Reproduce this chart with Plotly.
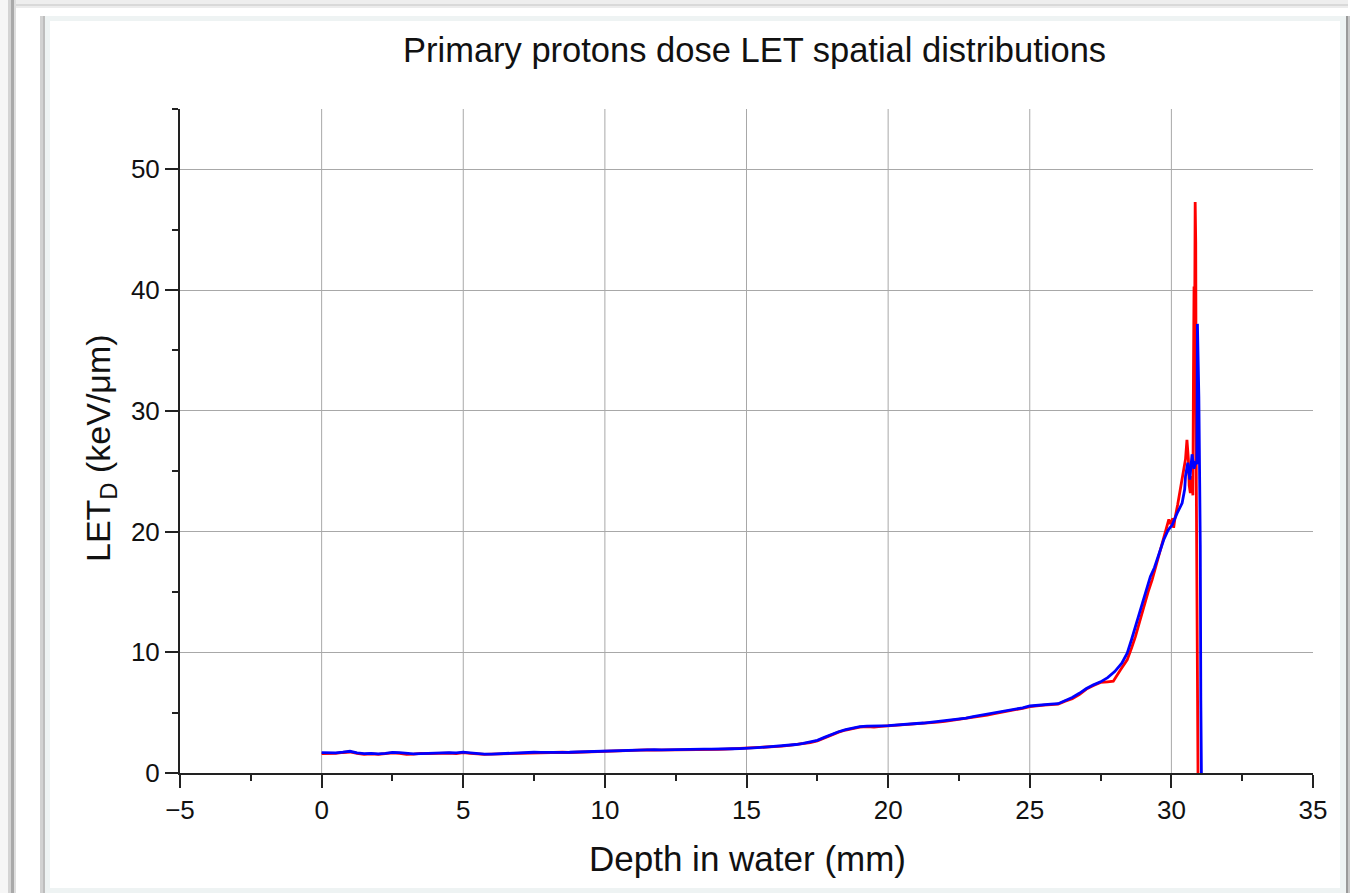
import plotly.graph_objects as go

# ---------------- data ----------------
depth_blue = [0.0, 0.25, 0.5, 0.75, 1.0, 1.25, 1.5, 1.75, 2.0, 2.25, 2.5, 2.75, 3.0, 3.25, 3.5, 3.75,
              4.0, 4.25, 4.5, 4.75, 5.0, 5.25, 5.5, 5.75, 6.0, 6.25, 6.5, 6.75, 7.0, 7.25, 7.5, 7.75,
              8.0, 8.25, 8.5, 8.75, 9.0, 9.25, 9.5, 9.75, 10.0, 10.25, 10.5, 10.75, 11.0, 11.25, 11.5, 11.75,
              12.0, 12.25, 12.5, 12.75, 13.0, 13.25, 13.5, 13.75, 14.0, 14.25, 14.5, 14.75, 15.0, 15.25, 15.5, 15.75,
              16.0, 16.25, 16.5, 16.75, 17.0, 17.25, 17.5, 17.75, 18.0, 18.25, 18.5, 18.75, 19.0, 19.25, 19.5, 19.75,
              20.0, 20.25, 20.5, 20.75, 21.0, 21.25, 21.5, 21.75, 22.0, 22.25, 22.5, 22.75, 23.0, 23.25, 23.5, 23.75,
              24.0, 24.25, 24.5, 24.75, 25.0, 25.25, 25.5, 25.75, 26.0, 26.25, 26.5, 26.75, 27.0, 27.25, 27.5, 27.75,
              28.0, 28.25, 28.44, 28.6, 28.73, 28.9, 29.03, 29.15, 29.26, 29.4, 29.5, 29.62, 29.73, 29.88, 30.03, 30.2,
              30.38, 30.47, 30.5, 30.58, 30.65, 30.73, 30.8, 30.85, 30.9, 30.92, 30.95, 30.97, 31.0, 31.02, 31.04, 31.06]
let_blue = [1.68, 1.66, 1.67, 1.72, 1.80, 1.66, 1.60, 1.62, 1.58, 1.62, 1.70, 1.68, 1.60, 1.58, 1.60, 1.63,
            1.66, 1.70, 1.68, 1.66, 1.72, 1.66, 1.58, 1.56, 1.57, 1.60, 1.64, 1.66, 1.68, 1.70, 1.72, 1.71,
            1.70, 1.73, 1.74, 1.72, 1.74, 1.76, 1.75, 1.77, 1.80, 1.84, 1.88, 1.86, 1.92, 1.90, 1.91, 1.93,
            1.92, 1.94, 1.95, 1.96, 1.95, 1.97, 1.98, 1.98, 1.97, 1.99, 2.01, 2.02, 2.03, 2.08, 2.12, 2.16,
            2.20, 2.24, 2.30, 2.36, 2.45, 2.55, 2.70, 2.95, 3.20, 3.42, 3.60, 3.74, 3.84, 3.88, 3.86, 3.90,
            3.92, 3.98, 4.02, 4.05, 4.10, 4.14, 4.20, 4.26, 4.32, 4.40, 4.46, 4.55, 4.66, 4.76, 4.86, 4.96,
            5.06, 5.18, 5.28, 5.40, 5.55, 5.62, 5.66, 5.70, 5.74, 6.00, 6.25, 6.60, 7.00, 7.30, 7.55, 7.90,
            8.40, 9.10, 9.93, 11.1, 12.1, 13.4, 14.35, 15.3, 16.28, 17.0, 17.66, 18.5, 19.32, 20.1, 20.56, 21.5,
            22.36, 23.5, 24.6, 25.7, 24.3, 26.4, 25.2, 25.68, 25.6, 37.2, 34.0, 31.2, 24.0, 18.9, 6.0, 0.0]

depth_red = [0.0, 0.25, 0.5, 0.75, 1.0, 1.25, 1.5, 1.75, 2.0, 2.25, 2.5, 2.75, 3.0, 3.25, 3.5, 3.75,
             4.0, 4.25, 4.5, 4.75, 5.0, 5.25, 5.5, 5.75, 6.0, 6.25, 6.5, 6.75, 7.0, 7.25, 7.5, 7.75,
             8.0, 8.25, 8.5, 8.75, 9.0, 9.25, 9.5, 9.75, 10.0, 10.25, 10.5, 10.75, 11.0, 11.25, 11.5, 11.75,
             12.0, 12.25, 12.5, 12.75, 13.0, 13.25, 13.5, 13.75, 14.0, 14.25, 14.5, 14.75, 15.0, 15.25, 15.5, 15.75,
             16.0, 16.25, 16.5, 16.75, 17.0, 17.25, 17.5, 17.75, 18.0, 18.25, 18.5, 18.75, 19.0, 19.25, 19.5, 19.75,
             20.0, 20.25, 20.5, 20.75, 21.0, 21.25, 21.5, 21.75, 22.0, 22.25, 22.5, 22.75, 23.0, 23.25, 23.5, 23.75,
             24.0, 24.25, 24.5, 24.75, 25.0, 25.25, 25.5, 25.75, 26.0, 26.25, 26.5, 26.75, 27.0, 27.25, 27.5, 27.75,
             27.95, 28.2, 28.44, 28.6, 28.73, 28.9, 29.03, 29.18, 29.32, 29.47, 29.62, 29.77, 29.91, 29.98, 30.05, 30.08,
             30.12, 30.22, 30.32, 30.42, 30.5, 30.55, 30.6, 30.63, 30.67, 30.72, 30.76, 30.78, 30.8, 30.82, 30.84, 30.86,
             30.88, 30.9, 30.92, 30.94]
let_red = [1.60, 1.58, 1.62, 1.70, 1.74, 1.62, 1.55, 1.58, 1.55, 1.60, 1.66, 1.62, 1.55, 1.56, 1.62, 1.60,
           1.62, 1.66, 1.64, 1.60, 1.68, 1.62, 1.55, 1.54, 1.56, 1.58, 1.62, 1.64, 1.66, 1.68, 1.70, 1.68,
           1.68, 1.70, 1.72, 1.70, 1.72, 1.74, 1.73, 1.75, 1.78, 1.82, 1.86, 1.84, 1.90, 1.88, 1.92, 1.90,
           1.90, 1.92, 1.94, 1.92, 1.93, 1.95, 1.96, 1.96, 1.95, 1.97, 2.00, 2.00, 2.02, 2.06, 2.10, 2.14,
           2.18, 2.22, 2.28, 2.34, 2.42, 2.52, 2.66, 2.90, 3.15, 3.38, 3.56, 3.70, 3.80, 3.84, 3.80, 3.86,
           3.90, 3.94, 4.00, 4.02, 4.08, 4.12, 4.16, 4.22, 4.28, 4.36, 4.42, 4.50, 4.62, 4.70, 4.80, 4.92,
           5.02, 5.12, 5.24, 5.36, 5.50, 5.58, 5.62, 5.66, 5.70, 5.95, 6.15, 6.50, 6.95, 7.25, 7.50, 7.55,
           7.60, 8.54, 9.37, 10.4, 11.3, 12.7, 13.8, 15.0, 16.0, 17.3, 18.5, 19.8, 21.0, 20.6, 21.1, 20.3,
           21.0, 22.2, 23.5, 25.0, 26.0, 27.6, 26.0, 23.8, 23.2, 24.6, 23.0, 33.0, 40.3, 36.0, 47.3, 43.9,
           24.0, 11.3, 9.5, 0.0]

x_ticks = [-5, 0, 5, 10, 15, 20, 25, 30, 35]
y_ticks = [0, 10, 20, 30, 40, 50]
x_grid = [0, 5, 10, 15, 20, 25, 30]

title_text = "Primary protons dose LET spatial distributions"
x_title = "Depth in water (mm)"
y_title = "LET<sub>D</sub> (keV/μm)"

# ---------------- layout geometry ----------------
W, H = 1354, 893
ML, MR, MT, MB = 180, 41, 109, 120
PW, PH = W - ML - MR, H - MT - MB
FONT = "Liberation Sans, Arial, Helvetica, sans-serif"


def px(x):
    return (x - ML) / PW


def py(y):
    return (H - MB - y) / PH


fig = go.Figure()
fig.add_trace(go.Scatter(x=depth_red, y=let_red, mode="lines",
                         line=dict(color="#ff0000", width=2.8), showlegend=False))
fig.add_trace(go.Scatter(x=depth_blue, y=let_blue, mode="lines",
                         line=dict(color="#0000ff", width=2.8), showlegend=False))

shapes = []
# vertical grid lines
for gx in x_grid:
    shapes.append(dict(type="line", xref="x", yref="paper", x0=gx, x1=gx, y0=0, y1=1,
                       line=dict(color="#a8a8a8", width=1), layer="below"))


def rect(x0, y0, x1, y1, color):
    shapes.append(dict(type="rect", xref="paper", yref="paper",
                       x0=px(x0), x1=px(x1), y0=py(y1), y1=py(y0),
                       fillcolor=color, line=dict(width=0), layer="below"))


# window frame decoration
rect(0, 0, 1348, 4, "#eeeeee")
rect(0, 4, 1348, 6, "#d9d9d9")
rect(0, 6, 1348, 8, "#ececec")
rect(0, 0, 8, H, "#f6f6f6")
rect(8, 0, 11, H, "#d4d4d4")
rect(11, 0, 14, H, "#a9a9a9")
rect(14, 0, 16, H, "#dedede")
rect(40, 16, 43, H, "#d2d2d2")
rect(43, 16, 45, H, "#bdbdbd")
rect(45, 16, 1346, 21, "#eef3f3")
rect(45, 16, 50, H, "#eef3f3")
rect(1340, 16, 1346, H, "#eef3f3")
rect(1346, 16, 1348, H, "#9a9a9a")
rect(1348, 16, 1350, H, "#c8c8c8")
rect(45, 888, 1346, H, "#eef3f3")

axis_common = dict(
    showline=True, linecolor="#222222", linewidth=2,
    ticks="outside", ticklen=13, tickwidth=2, tickcolor="#222222",
    zeroline=False, mirror=False,
    tickfont=dict(family=FONT, size=26, color="#111111"),
)

fig.update_layout(
    width=W, height=H, autosize=False,
    margin=dict(l=ML, r=MR, t=MT, b=MB),
    paper_bgcolor="white", plot_bgcolor="white",
    shapes=shapes,
    xaxis=dict(range=[-5, 35], tickvals=x_ticks, showgrid=False,
               minor=dict(ticks="outside", ticklen=6, tickwidth=2, tickcolor="#222222",
                          dtick=2.5, tick0=0, showgrid=False),
               **axis_common),
    yaxis=dict(range=[0, 55], tickvals=y_ticks, showgrid=True, gridcolor="#a8a8a8", gridwidth=1,
               minor=dict(ticks="outside", ticklen=6, tickwidth=2, tickcolor="#222222",
                          dtick=5, tick0=0, showgrid=False),
               **axis_common),
    annotations=[
        dict(text=title_text, xref="paper", yref="paper", x=px(754), y=py(50),
             xanchor="center", yanchor="middle", showarrow=False,
             font=dict(family=FONT, size=34.5, color="#111111")),
        dict(text=x_title, xref="paper", yref="paper", x=px(747), y=py(858),
             xanchor="center", yanchor="middle", showarrow=False,
             font=dict(family=FONT, size=35, color="#111111")),
        dict(text=y_title, xref="paper", yref="paper", x=px(100), y=py(448),
             xanchor="center", yanchor="middle", showarrow=False, textangle=-90,
             font=dict(family=FONT, size=34, color="#111111")),
    ],
)

fig.write_html("out.html")
